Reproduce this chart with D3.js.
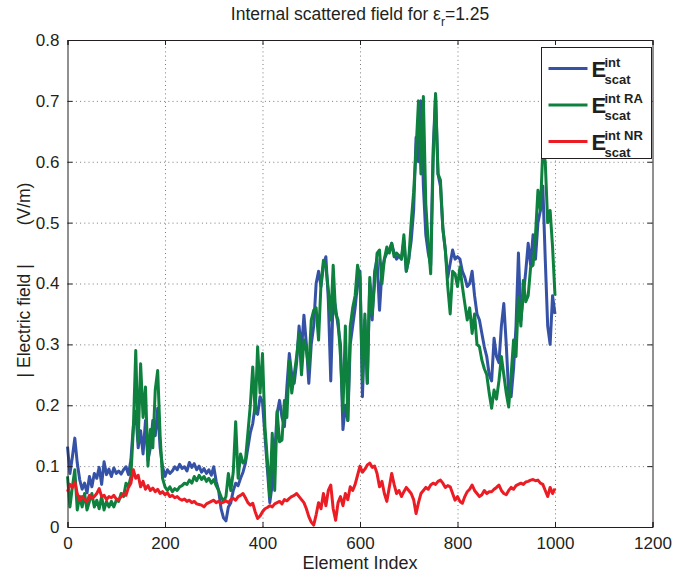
<!DOCTYPE html>
<html>
<head>
<meta charset="utf-8">
<script src="https://cdn.jsdelivr.net/npm/d3@7/dist/d3.min.js"></script>
<style>
  html, body { margin: 0; padding: 0; background: #fff; }
  svg { display: block; }
  text { font-family: "Liberation Sans", Arial, Helvetica, sans-serif; fill: #231f20; }
</style>
</head>
<body>
<svg id="chart" width="676" height="577"></svg>
<script>
// Element indices are sampled every `step` elements, from 0 to 1000.
const step = 5;

// |E| of the internal scattered field (V/m), full solution
const scatExact = [
  .132,.088,.115,.146,.105,.078,.062,.072,.056,.083,
  .066,.088,.080,.098,.070,.107,.086,.095,.083,.097,
  .088,.092,.087,.094,.099,.086,.110,.165,.190,.130,
  .158,.120,.175,.110,.130,.175,.150,.195,.130,.099,
  .083,.094,.088,.092,.099,.094,.103,.096,.099,.092,
  .106,.098,.104,.094,.100,.090,.096,.088,.094,.085,
  .099,.075,.060,.030,.015,.010,.033,.040,.060,.072,
  .068,.080,.090,.105,.130,.155,.170,.200,.185,.214,
  .205,.150,.095,.040,.070,.120,.187,.208,.180,.165,
  .230,.285,.250,.236,.270,.330,.290,.348,.300,.236,
  .300,.330,.400,.420,.395,.430,.444,.373,.240,.380,
  .360,.330,.300,.160,.200,.175,.300,.330,.360,.400,
  .420,.214,.340,.236,.400,.340,.420,.440,.356,.420,
  .440,.450,.455,.466,.450,.440,.445,.440,.470,.420,
  .440,.470,.520,.640,.600,.700,.560,.480,.450,.430,
  .620,.710,.580,.560,.490,.455,.410,.433,.455,.440,
  .444,.440,.420,.410,.395,.400,.420,.380,.350,.340,
  .318,.296,.280,.250,.240,.310,.280,.270,.330,.367,
  .300,.220,.214,.260,.330,.450,.340,.380,.420,.466,
  .430,.480,.440,.500,.520,.560,.440,.330,.300,.380,
  .350
];

// |E| with the RA approximation
const scatRA = [
  .083,.033,.066,.094,.028,.050,.033,.055,.028,.042,
  .055,.033,.044,.030,.050,.028,.042,.033,.042,.033,
  .044,.042,.055,.050,.072,.066,.083,.160,.290,.140,
  .268,.180,.230,.100,.160,.130,.225,.257,.150,.080,
  .066,.060,.066,.058,.063,.060,.066,.068,.072,.070,
  .077,.072,.083,.076,.085,.078,.083,.075,.080,.072,
  .078,.068,.060,.050,.042,.050,.088,.060,.090,.173,
  .080,.120,.105,.110,.154,.200,.263,.187,.296,.220,
  .285,.165,.110,.050,.154,.060,.190,.140,.143,.208,
  .180,.274,.220,.250,.280,.318,.250,.307,.290,.260,
  .340,.356,.360,.307,.400,.438,.427,.390,.340,.430,
  .350,.340,.280,.190,.330,.175,.330,.360,.380,.430,
  .410,.240,.350,.236,.410,.350,.400,.450,.455,.400,
  .440,.460,.450,.466,.444,.450,.446,.440,.480,.420,
  .440,.500,.550,.620,.700,.580,.707,.530,.466,.416,
  .600,.712,.580,.570,.490,.455,.395,.350,.420,.416,
  .395,.427,.395,.367,.340,.360,.318,.350,.300,.296,
  .274,.260,.250,.220,.195,.225,.210,.240,.280,.250,
  .220,.197,.250,.307,.280,.378,.330,.405,.370,.380,
  .427,.430,.480,.553,.520,.620,.600,.500,.520,.460,
  .380
];

// |E| with the NR approximation
const scatNR = [
  .058,.070,.065,.074,.055,.044,.050,.045,.042,.052,
  .047,.050,.055,.063,.050,.052,.045,.050,.048,.052,
  .046,.045,.050,.055,.052,.065,.072,.094,.080,.085,
  .066,.075,.062,.068,.060,.064,.058,.062,.055,.058,
  .053,.056,.050,.052,.048,.050,.046,.044,.046,.042,
  .044,.040,.042,.038,.037,.036,.033,.038,.040,.042,
  .044,.040,.042,.039,.041,.043,.040,.045,.047,.044,
  .050,.052,.055,.048,.040,.036,.039,.025,.014,.018,
  .025,.030,.032,.035,.033,.038,.040,.042,.038,.045,
  .043,.047,.050,.052,.055,.050,.045,.040,.030,.017,
  .008,.003,.020,.040,.030,.055,.035,.060,.069,.030,
  .011,.040,.050,.035,.055,.045,.066,.060,.070,.085,
  .100,.090,.095,.102,.105,.098,.100,.088,.066,.075,
  .055,.042,.065,.088,.070,.055,.060,.050,.058,.065,
  .060,.055,.045,.022,.040,.055,.060,.065,.062,.069,
  .072,.070,.075,.077,.072,.065,.068,.066,.055,.044,
  .050,.042,.039,.050,.058,.062,.069,.060,.055,.050,
  .053,.060,.055,.058,.058,.062,.065,.069,.060,.055,
  .053,.060,.065,.062,.068,.070,.072,.070,.074,.075,
  .077,.078,.076,.077,.072,.070,.060,.050,.065,.055,
  .063
];

const xTicks = [0, 200, 400, 600, 800, 1000, 1200];
const yTicks = [0, 0.1, 0.2, 0.3, 0.4, 0.5, 0.6, 0.7, 0.8];

const series = [
  { sup: "int", values: scatExact, color: "#3552a6" },
  { sup: "int RA", values: scatRA, color: "#0e813f" },
  { sup: "int NR", values: scatNR, color: "#ec1c24" }
];

const margin = { left: 67.5, right: 676 - 652.5, top: 40, bottom: 577 - 527 };
const W = 676, H = 577;
const svg = d3.select("#chart");

const x = d3.scaleLinear().domain([0, 1200]).range([margin.left, W - margin.right]);
const y = d3.scaleLinear().domain([0, 0.8]).range([H - margin.bottom, margin.top]);
const plotW = x.range()[1] - x.range()[0];
const plotH = y.range()[0] - y.range()[1];

// dotted grid
const grid = svg.append("g").attr("class", "grid");
grid.append("g")
  .attr("transform", `translate(0,${y(0)})`)
  .call(d3.axisBottom(x).tickValues(xTicks.slice(1, -1)).tickSize(-plotH).tickFormat(""))
  .call(g => g.select(".domain").remove());
grid.append("g")
  .attr("transform", `translate(${x(0)},0)`)
  .call(d3.axisLeft(y).tickValues(yTicks.slice(1, -1)).tickSize(-plotW).tickFormat(""))
  .call(g => g.select(".domain").remove());
grid.selectAll("line")
  .attr("stroke", "#7a7a7a")
  .attr("stroke-width", 1)
  .attr("stroke-dasharray", "1,3.2");

// data lines
const line = d3.line()
  .x((d, i) => x(i * step))
  .y(d => y(d));

svg.append("g").attr("class", "lines")
  .selectAll("path")
  .data(series)
  .join("path")
  .attr("d", d => line(d.values))
  .attr("fill", "none")
  .attr("stroke", d => d.color)
  .attr("stroke-width", 3)
  .attr("stroke-linejoin", "round");

// axes (ticks point inward, box on all four sides)
const axisFont = g => g.selectAll("text")
  .attr("font-size", 17)
  .attr("fill", "#231f20");

svg.append("g")
  .attr("transform", `translate(0,${y(0)})`)
  .call(d3.axisBottom(x).tickValues(xTicks).tickSize(-5).tickPadding(9).tickFormat(d3.format("d")))
  .call(axisFont)
  .call(g => g.selectAll("text").attr("dy", "0.75em"));
svg.append("g")
  .attr("transform", `translate(0,${y(0.8)})`)
  .call(d3.axisTop(x).tickValues(xTicks).tickSize(-5).tickFormat(""));
svg.append("g")
  .attr("transform", `translate(${x(0)},0)`)
  .call(d3.axisLeft(y).tickValues(yTicks).tickSize(-5).tickPadding(8).tickFormat(d3.format("~g")))
  .call(axisFont);
svg.append("g")
  .attr("transform", `translate(${x(1200)},0)`)
  .call(d3.axisRight(y).tickValues(yTicks).tickSize(-5).tickFormat(""));

svg.selectAll(".domain, .tick line").filter(function () {
  return !this.closest(".grid");
}).attr("stroke", "#231f20").attr("stroke-width", 1);
svg.selectAll(".tick text").attr("font-family", "'Liberation Sans', Arial, sans-serif");

// title
const title = svg.append("text")
  .attr("x", (x(0) + x(1200)) / 2)
  .attr("y", 20)
  .attr("text-anchor", "middle")
  .attr("font-size", 17.5);
title.append("tspan").text("Internal scattered field for ε");
title.append("tspan").attr("font-size", 12).attr("dy", 6).text("r");
title.append("tspan").attr("dy", -6).text("=1.25");

// axis labels
svg.append("text")
  .attr("x", (x(0) + x(1200)) / 2)
  .attr("y", 569)
  .attr("text-anchor", "middle")
  .attr("font-size", 18)
  .text("Element Index");

svg.append("text")
  .attr("transform", "translate(30,280) rotate(-90)")
  .attr("text-anchor", "middle")
  .attr("font-size", 17.5)
  .attr("xml:space", "preserve")
  .text("| Electric field |        (V/m)");

// legend
const lg = svg.append("g").attr("class", "legend").attr("transform", "translate(541.5,47.5)");
lg.append("rect")
  .attr("width", 110).attr("height", 111)
  .attr("fill", "#fff").attr("stroke", "#231f20").attr("stroke-width", 1);

const entry = lg.selectAll("g.entry")
  .data(series)
  .join("g")
  .attr("class", "entry")
  .attr("transform", (d, i) => `translate(0,${21 + i * 36.5})`);
entry.append("line")
  .attr("x1", 7).attr("x2", 46)
  .attr("stroke", d => d.color).attr("stroke-width", 3);
const lt = entry.append("text").attr("font-weight", "bold");
lt.append("tspan").attr("x", 50).attr("y", 8).attr("font-size", 22).text("E");
lt.append("tspan").attr("x", 63).attr("y", -2).attr("font-size", 13).text(d => d.sup);
lt.append("tspan").attr("x", 63).attr("y", 15).attr("font-size", 13).text("scat");
</script>
</body>
</html>
